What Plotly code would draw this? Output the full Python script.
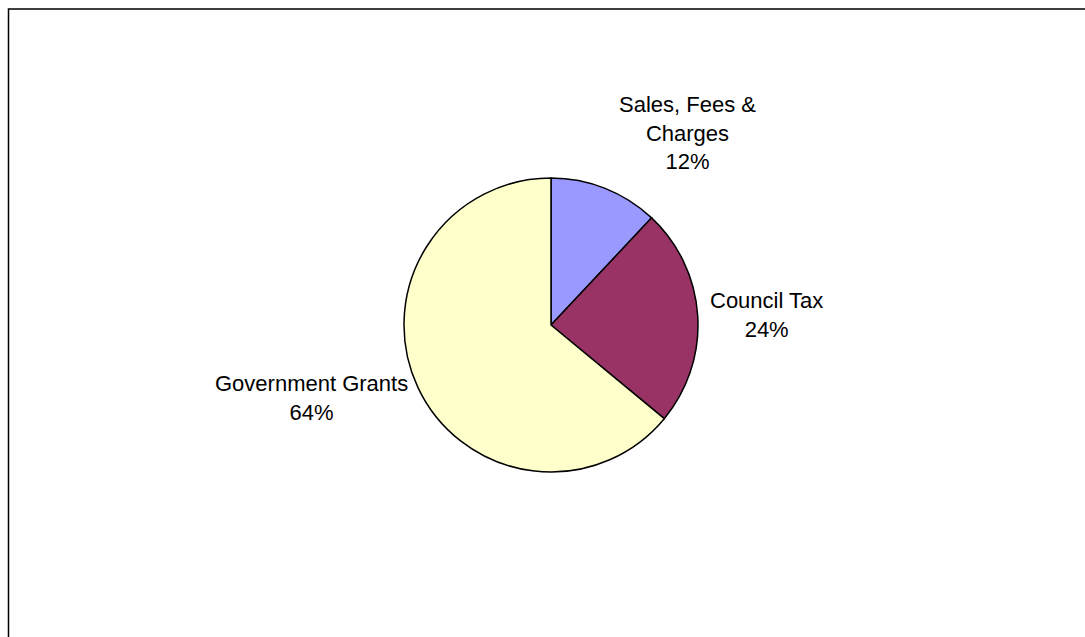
import plotly.graph_objects as go

# Income sources and their share (%)
labels = ["Sales, Fees &<br>Charges", "Council Tax", "Government Grants"]
values = [12, 24, 64]
colors = ["#9999FF", "#993366", "#FFFFCC"]

# Label anchor points (pixel centres of each text block)
label_pos_px = [(687, 133), (766, 315), (311, 398)]

W, H = 1085, 637

fig = go.Figure(
    go.Pie(
        labels=labels,
        values=values,
        sort=False,
        direction="clockwise",
        rotation=0,
        marker=dict(colors=colors, line=dict(color="black", width=1.5)),
        textinfo="none",
        hoverinfo="label+percent",
        showlegend=False,
        domain=dict(x=[404 / W, 698 / W], y=[1 - 472 / H, 1 - 178 / H]),
    )
)

total = sum(values)
annotations = []
for lab, v, (px, py) in zip(labels, values, label_pos_px):
    annotations.append(
        dict(
            text=f"{lab}<br>{round(100 * v / total)}%",
            x=px / W,
            y=1 - py / H,
            xref="paper",
            yref="paper",
            xanchor="center",
            yanchor="middle",
            showarrow=False,
            align="center",
            font=dict(family="Liberation Sans, Arial, sans-serif", size=22, color="black"),
        )
    )

fig.update_layout(
    width=W,
    height=H,
    margin=dict(l=0, r=0, t=0, b=0),
    paper_bgcolor="white",
    plot_bgcolor="white",
    annotations=annotations,
    shapes=[
        dict(
            type="rect",
            xref="paper",
            yref="paper",
            x0=8.5 / W,
            x1=1.02,
            y0=-0.02,
            y1=1 - 9 / H,
            line=dict(color="black", width=1.5),
            fillcolor="rgba(0,0,0,0)",
            layer="below",
        )
    ],
)

fig.write_html("out.html")
